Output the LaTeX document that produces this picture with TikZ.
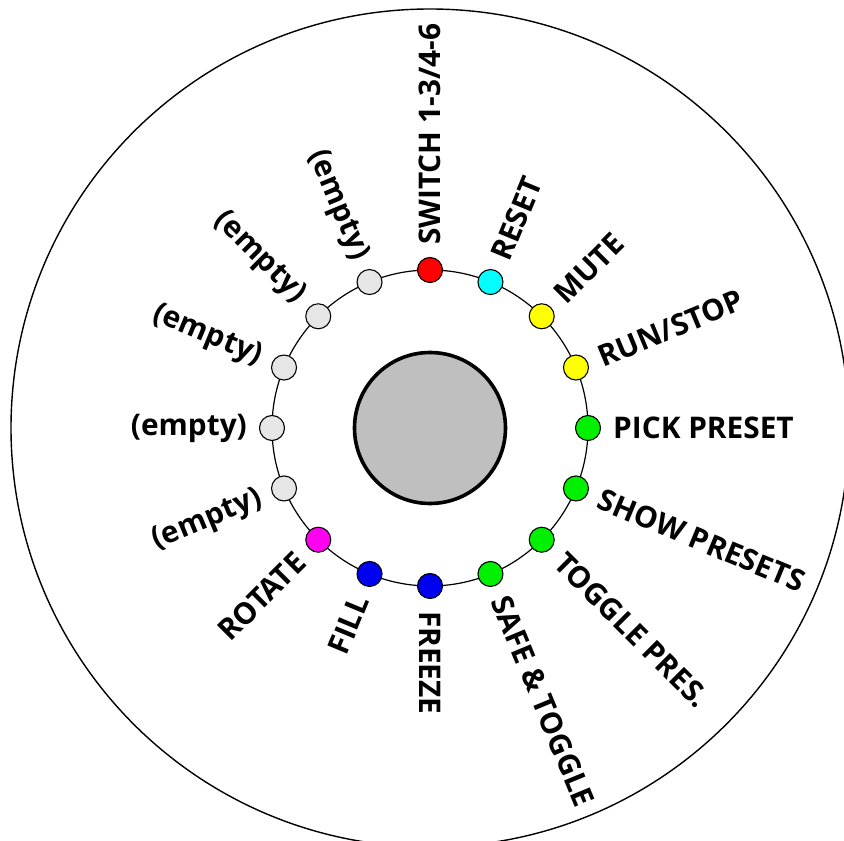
\documentclass[tikz,border=0pt]{standalone}
\usepackage{fontspec}
\setmainfont{Open Sans}
\definecolor{dotgray}{RGB}{230,230,230}
\definecolor{hubgray}{RGB}{191,191,191}
\definecolor{cgreen}{RGB}{0,240,0}
\definecolor{cyellow}{RGB}{255,255,0}
\definecolor{ccyan}{RGB}{0,255,255}
\definecolor{cblue}{RGB}{0,0,240}
\definecolor{cmag}{RGB}{255,0,240}
\definecolor{cred}{RGB}{255,0,0}
\begin{document}
\begin{tikzpicture}[x=1pt,y=1pt,
  dot/.style={circle,draw=black,line width=1.1pt,minimum size=25pt,inner sep=0pt},
  lbl/.style={font=\fontsize{29.8}{35}\selectfont\bfseries,inner sep=0pt},
  lblR/.style={lbl,anchor=west},
  lblL/.style={lbl,anchor=east}]
\useasboundingbox (0,0) rectangle (844,841);
\coordinate (c) at (430,413);
\begin{scope}
\clip (0,0) rectangle (844,841);
\node[circle,draw=black,line width=1.4pt,minimum size=838pt,inner sep=0pt] (outer) at (c) {};
\end{scope}
\node[circle,draw=black,line width=1.2pt,minimum size=316pt,inner sep=0pt] (ring) at (c) {};
\node[circle,draw=black,line width=3.6pt,fill=hubgray,minimum size=151pt,inner sep=0pt] (hub) at (c) {};
% dots
\node[dot,fill=cred]    (d1)  at ([shift={(90:158)}]c) {};
\node[dot,fill=ccyan]   (d2)  at ([shift={(67.5:158)}]c) {};
\node[dot,fill=cyellow] (d3)  at ([shift={(45:158)}]c) {};
\node[dot,fill=cyellow] (d4)  at ([shift={(22.5:158)}]c) {};
\node[dot,fill=cgreen]  (d5)  at ([shift={(0:158)}]c) {};
\node[dot,fill=cgreen]  (d6)  at ([shift={(-22.5:158)}]c) {};
\node[dot,fill=cgreen]  (d7)  at ([shift={(-45:158)}]c) {};
\node[dot,fill=cgreen]  (d8)  at ([shift={(-67.5:158)}]c) {};
\node[dot,fill=cblue]   (d9)  at ([shift={(-90:158)}]c) {};
\node[dot,fill=cblue]   (d10) at ([shift={(-112.5:158)}]c) {};
\node[dot,fill=cmag]    (d11) at ([shift={(-135:158)}]c) {};
\node[dot,fill=dotgray] (d12) at ([shift={(-157.5:158)}]c) {};
\node[dot,fill=dotgray] (d13) at ([shift={(180:158)}]c) {};
\node[dot,fill=dotgray] (d14) at ([shift={(157.5:158)}]c) {};
\node[dot,fill=dotgray] (d15) at ([shift={(135:158)}]c) {};
\node[dot,fill=dotgray] (d16) at ([shift={(112.5:158)}]c) {};
% labels
\node[lblR,rotate=90]    (l1)  at ([shift={(90:183)}]c) {SWITCH 1-3/4-6};
\node[lblR,rotate=67.5]  (l2)  at ([shift={(67.5:183)}]c) {RESET};
\node[lblR,rotate=45]    (l3)  at ([shift={(45:183)}]c) {MUTE};
\node[lblR,rotate=22.5]  (l4)  at ([shift={(22.5:183)}]c) {RUN/STOP};
\node[lblR,rotate=0]     (l5)  at ([shift={(0:183)}]c) {PICK PRESET};
\node[lblR,rotate=-22.5] (l6)  at ([shift={(-22.5:183)}]c) {SHOW PRESETS};
\node[lblR,rotate=-45]   (l7)  at ([shift={(-45:183)}]c) {TOGGLE PRES.};
\node[lblR,rotate=-67.5] (l8)  at ([shift={(-67.5:183)}]c) {SAFE \& TOGGLE};
\node[lblR,rotate=-90]   (l9)  at ([shift={(-90:183)}]c) {FREEZE};
\node[lblL,rotate=67.5]  (l10) at ([shift={(-112.5:183)}]c) {FILL};
\node[lblL,rotate=45]    (l11) at ([shift={(-135:183)}]c) {ROTATE};
\node[lblL,rotate=22.5]  (l12) at ([shift={(-157.5:183)}]c) {(empty)};
\node[lblL,rotate=0]     (l13) at ([shift={(180:183)}]c) {(empty)};
\node[lblL,rotate=-22.5] (l14) at ([shift={(157.5:183)}]c) {(empty)};
\node[lblL,rotate=-45]   (l15) at ([shift={(135:183)}]c) {(empty)};
\node[lblL,rotate=-67.5] (l16) at ([shift={(112.5:183)}]c) {(empty)};
\end{tikzpicture}
\end{document}
